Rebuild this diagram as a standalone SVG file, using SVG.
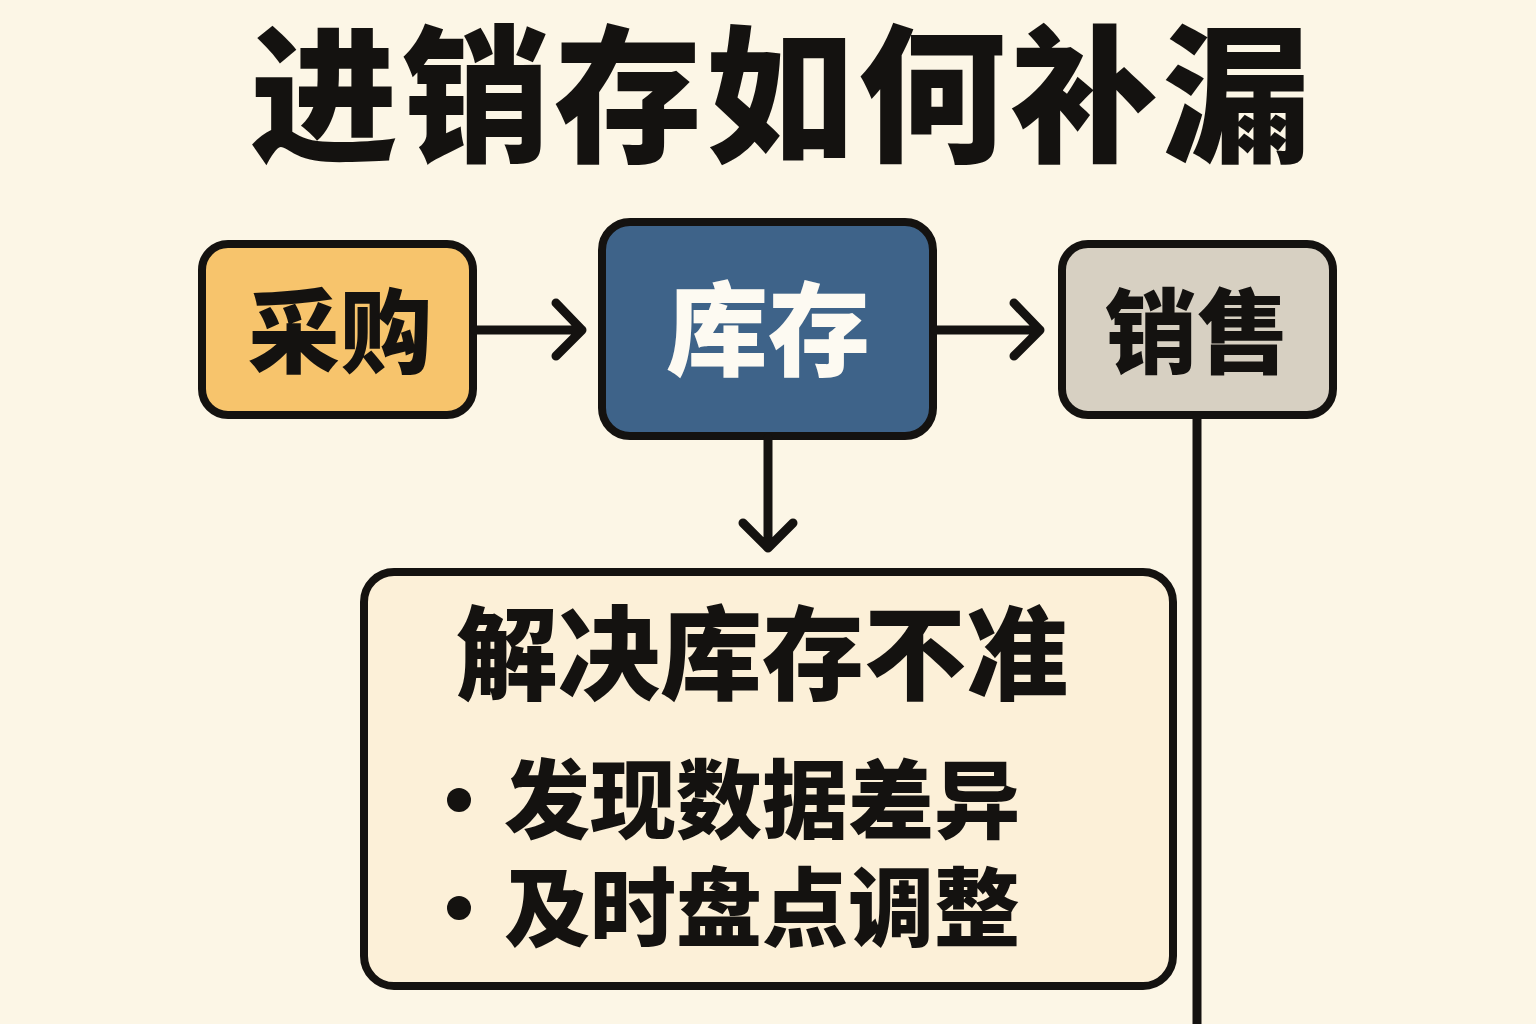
<svg xmlns="http://www.w3.org/2000/svg" width="1536" height="1024" viewBox="0 0 1536 1024">
<defs>
<style>
.t{font-family:"Noto Sans CJK SC","Noto Sans",sans-serif;font-weight:900;text-anchor:middle}
.box{stroke:#141210;stroke-width:8}
.ln{stroke:#141210;stroke-width:9;fill:none;stroke-linecap:round;stroke-linejoin:round}
</style>
</defs>
<rect width="1536" height="1024" fill="#fcf6e6"/>
<text class="t" x="782" y="150" font-size="148" letter-spacing="4" fill="#141210">进销存如何补漏</text>
<g id="caigou">
<rect class="box" x="202" y="244" width="271" height="171" rx="26" fill="#f7c46c"/>
<text class="t" x="340" y="366" font-size="92" fill="#141210">采购</text>
</g>
<g id="kucun">
<rect class="box" x="602" y="222" width="331" height="214" rx="28" fill="#3e6389"/>
<text class="t" x="768" y="368" font-size="102" fill="#fdfaf2">库存</text>
</g>
<g id="xiaoshou">
<rect class="box" x="1062" y="244" width="271" height="171" rx="26" fill="#d7d0c2"/>
<text class="t" x="1197" y="366" font-size="92" fill="#141210">销售</text>
</g>
<g id="jiejue">
<rect class="box" x="364" y="572" width="809" height="414" rx="30" fill="#fcf0d8"/>
<text class="t" x="762" y="692" font-size="102" fill="#141210">解决库存不准</text>
<circle cx="459" cy="800" r="12" fill="#141210"/>
<text class="t" x="762" y="832" font-size="86" fill="#141210">发现数据差异</text>
<circle cx="459" cy="908" r="12" fill="#141210"/>
<text class="t" x="762" y="940" font-size="86" fill="#141210">及时盘点调整</text>
</g>
<g id="connectors">
<path class="ln" d="M475 330 H582 M556 303 L582 330 L556 356"/>
<path class="ln" d="M935 330 H1040 M1014 303 L1040 330 L1014 356"/>
<path class="ln" d="M768 438 V548 M743 523 L768 548 L793 523"/>
<path class="ln" style="stroke-linecap:butt" d="M1197 417 V1024"/>
</g>
</svg>
